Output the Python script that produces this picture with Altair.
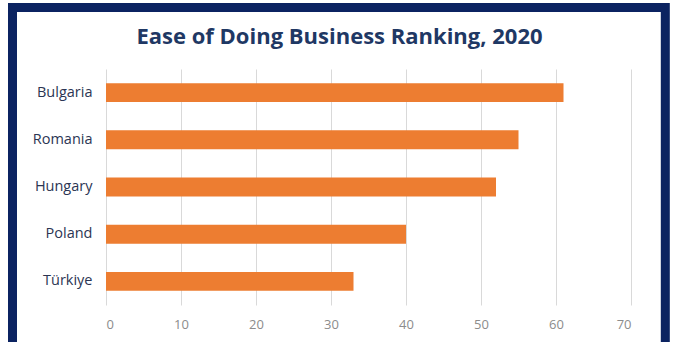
import altair as alt
import pandas as pd

countries = ["Bulgaria", "Romania", "Hungary", "Poland", "Türkiye"]
ranks = [61, 55, 52, 40, 33]
x_ticks = [0, 10, 20, 30, 40, 50, 60, 70]

df = pd.DataFrame({"country": countries, "rank": ranks})

bars = alt.Chart(df).mark_bar(color="#ED7D31").encode(
    x=alt.X("rank:Q",
            scale=alt.Scale(domain=[0, 70], nice=False),
            axis=alt.Axis(title=None, values=x_ticks, grid=True, gridColor="#D9D9D9",
                          domain=False, ticks=False, labelColor="#8C8C8C",
                          labelFontSize=13, labelPadding=13, labelFont="Open Sans")),
    y=alt.Y("country:N", sort=countries,
            scale=alt.Scale(paddingInner=0.6, paddingOuter=0.3),
            axis=alt.Axis(title=None, domain=False, ticks=False, labelColor="#2B3553",
                          labelFontSize=14.5, labelPadding=14, labelFont="Open Sans")),
)

frame = alt.Chart(pd.DataFrame({"a": [0]})).mark_rect(
    filled=False, stroke="#0B2361", strokeWidth=9
).encode(
    x=alt.value(-93.5), x2=alt.value(559.3),
    y=alt.value(-61.5), y2=alt.value(300)
)

chart = alt.layer(bars, frame).properties(
    width=525, height=236,
    autosize=alt.AutoSizeParams(type="none"),
    padding={"left": 106, "top": 69, "right": 42, "bottom": 37},
    background="white",
    title=alt.TitleParams("Ease of Doing Business Ranking, 2020", font="Open Sans",
                          fontSize=22, fontWeight="bold", color="#1F3864",
                          anchor="middle", dx=-29, dy=66, offset=20),
).configure_view(stroke=None)

chart.save("out.html", embed_options={"renderer": "svg", "actions": False})
